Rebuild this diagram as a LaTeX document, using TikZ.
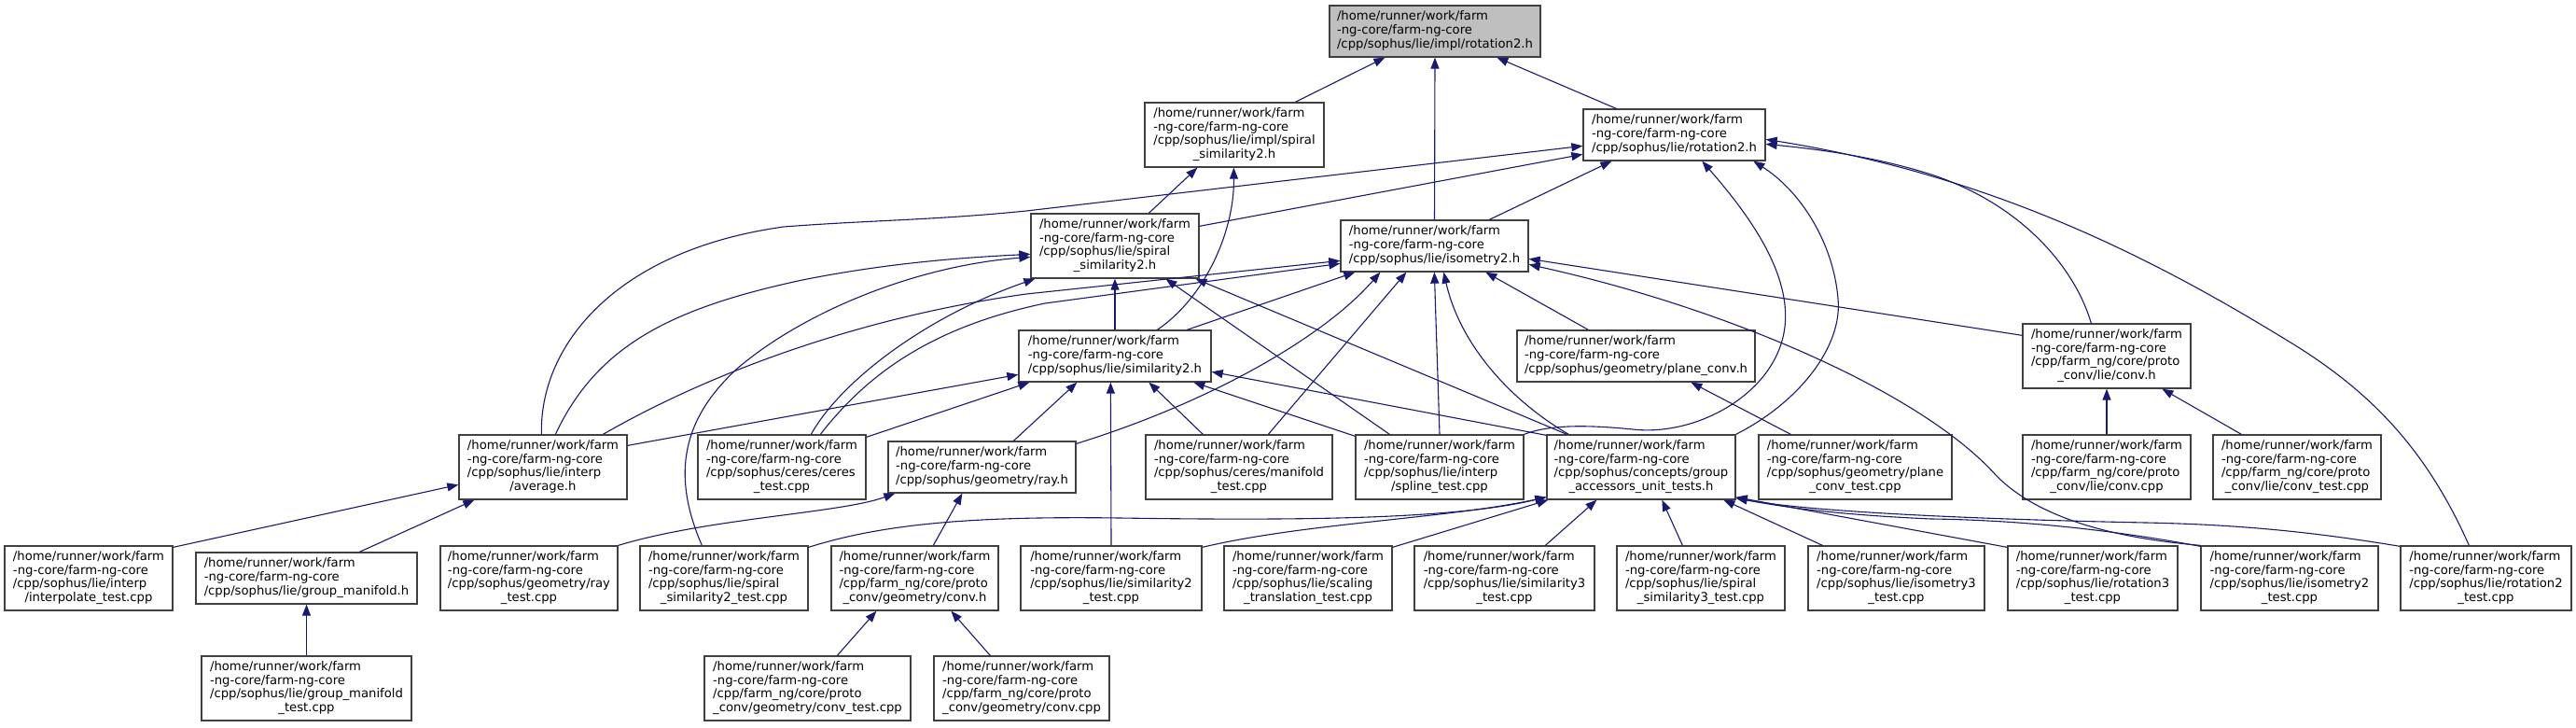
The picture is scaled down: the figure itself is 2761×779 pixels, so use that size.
\documentclass[tikz,border=0pt]{standalone}
\usepackage{fontspec}
\setmainfont{DejaVu Sans}
\usetikzlibrary{arrows.meta}
\definecolor{edgec}{HTML}{191970}
\definecolor{bordc}{HTML}{404040}
\definecolor{rootfill}{HTML}{BFBFBF}
\newcommand{\NThree}[1]{\begin{tabular}{@{}l@{}}/home/runner/work/farm\\-ng-core/farm-ng-core\\#1\end{tabular}}
\newcommand{\NFour}[2]{\begin{tabular}{@{}l@{}}/home/runner/work/farm\\-ng-core/farm-ng-core\\#1\\\multicolumn{1}{@{}c@{}}{#2}\end{tabular}}
\tikzset{
  box/.style={draw=bordc, line width=1.3pt, fill=white, inner sep=0pt, rectangle,
    font=\fontsize{13.2}{14.7}\selectfont, text=black},
  sz/.style 2 args={minimum width=#1pt, minimum height=#2pt},
  e/.style={draw=edgec, line width=1.1pt, -{Triangle[length=12pt,width=9pt]}}
}
\begin{document}
\begin{tikzpicture}[x=1pt,y=-1pt]
\useasboundingbox[fill=white] (0,0) rectangle (2761,779);
% row 0-3
\node[box,sz={226}{55},fill=rootfill] (root) at (1538,33.5) {\NThree{/cpp/sophus/lie/impl/rotation2.h}};
\node[box,sz={192}{69}] (implspiral) at (1323,144.5) {\NFour{/cpp/sophus/lie/impl/spiral}{\_similarity2.h}};
\node[box,sz={195}{55}] (rot2) at (1794.5,144.5) {\NThree{/cpp/sophus/lie/rotation2.h}};
\node[box,sz={180}{69}] (spiral2) at (1195,263.5) {\NFour{/cpp/sophus/lie/spiral}{\_similarity2.h}};
\node[box,sz={201}{55}] (iso2) at (1537.5,263.5) {\NThree{/cpp/sophus/lie/isometry2.h}};
\node[box,sz={206}{55}] (sim2) at (1195,381.5) {\NThree{/cpp/sophus/lie/similarity2.h}};
\node[box,sz={255}{55}] (planeconv) at (1753.5,381.5) {\NThree{/cpp/sophus/geometry/plane\_conv.h}};
\node[box,sz={180}{69}] (lieconvh) at (2258,381.5) {\NFour{/cpp/farm\_ng/core/proto}{\_conv/lie/conv.h}};
% row 4
\node[box,sz={180}{69}] (avg) at (582,500.5) {\NFour{/cpp/sophus/lie/interp}{/average.h}};
\node[box,sz={180}{69}] (ceres) at (838,500.5) {\NFour{/cpp/sophus/ceres/ceres}{\_test.cpp}};
\node[box,sz={201}{55}] (ray) at (1052.5,500.5) {\NThree{/cpp/sophus/geometry/ray.h}};
\node[box,sz={200}{69}] (manifold) at (1328,500.5) {\NFour{/cpp/sophus/ceres/manifold}{\_test.cpp}};
\node[box,sz={180}{69}] (spline) at (1543,500.5) {\NFour{/cpp/sophus/lie/interp}{/spline\_test.cpp}};
\node[box,sz={202}{69}] (gaut) at (1759,500.5) {\NFour{/cpp/sophus/concepts/group}{\_accessors\_unit\_tests.h}};
\node[box,sz={207}{69}] (planetest) at (1988.5,500.5) {\NFour{/cpp/sophus/geometry/plane}{\_conv\_test.cpp}};
\node[box,sz={180}{69}] (lieconvcpp) at (2258,500.5) {\NFour{/cpp/farm\_ng/core/proto}{\_conv/lie/conv.cpp}};
\node[box,sz={180}{69}] (lieconvtest) at (2462,500.5) {\NFour{/cpp/farm\_ng/core/proto}{\_conv/lie/conv\_test.cpp}};
% row 5
\node[box,sz={180}{69}] (interp) at (95,619.5) {\NFour{/cpp/sophus/lie/interp}{/interpolate\_test.cpp}};
\node[box,sz={237}{55}] (gm) at (328.5,619.5) {\NThree{/cpp/sophus/lie/group\_manifold.h}};
\node[box,sz={190}{69}] (raytest) at (567,619.5) {\NFour{/cpp/sophus/geometry/ray}{\_test.cpp}};
\node[box,sz={180}{69}] (sps2test) at (776,619.5) {\NFour{/cpp/sophus/lie/spiral}{\_similarity2\_test.cpp}};
\node[box,sz={179}{69}] (geomconvh) at (980.5,619.5) {\NFour{/cpp/farm\_ng/core/proto}{\_conv/geometry/conv.h}};
\node[box,sz={194}{69}] (sim2test) at (1191,619.5) {\NFour{/cpp/sophus/lie/similarity2}{\_test.cpp}};
\node[box,sz={180}{69}] (scaling) at (1402,619.5) {\NFour{/cpp/sophus/lie/scaling}{\_translation\_test.cpp}};
\node[box,sz={193}{69}] (sim3test) at (1612.5,619.5) {\NFour{/cpp/sophus/lie/similarity3}{\_test.cpp}};
\node[box,sz={180}{69}] (sps3test) at (1823,619.5) {\NFour{/cpp/sophus/lie/spiral}{\_similarity3\_test.cpp}};
\node[box,sz={189}{69}] (iso3test) at (2032.5,619.5) {\NFour{/cpp/sophus/lie/isometry3}{\_test.cpp}};
\node[box,sz={182}{69}] (rot3test) at (2243,619.5) {\NFour{/cpp/sophus/lie/rotation3}{\_test.cpp}};
\node[box,sz={190}{69}] (iso2test) at (2454,619.5) {\NFour{/cpp/sophus/lie/isometry2}{\_test.cpp}};
\node[box,sz={183}{69}] (rot2test) at (2664.5,619.5) {\NFour{/cpp/sophus/lie/rotation2}{\_test.cpp}};
% row 6
\node[box,sz={225}{69}] (gmtest) at (328.5,737.5) {\NFour{/cpp/sophus/lie/group\_manifold}{\_test.cpp}};
\node[box,sz={221}{69}] (geomconvtest) at (865.5,737.5) {\NFour{/cpp/farm\_ng/core/proto}{\_conv/geometry/conv\_test.cpp}};
\node[box,sz={188}{69}] (geomconvcpp) at (1095,737.5) {\NFour{/cpp/farm\_ng/core/proto}{\_conv/geometry/conv.cpp}};

% edges to root
\draw[e] ([xshift=162pt]implspiral.north west) -- ([xshift=60pt]root.south west);
\draw[e] (iso2.north) -- (root.south);
\draw[e] ([xshift=36pt]rot2.north west) -- ([xshift=180pt]root.south west);
% to implspiral
\draw[e] ([xshift=127pt]spiral2.north west) -- ([xshift=57pt]implspiral.south west);
\draw[e] ([xshift=149pt]sim2.north west) .. controls (1290,320) and (1323,250) .. ([xshift=96pt]implspiral.south west);
% to rot2
\draw[e] ([yshift=-14pt]spiral2.north east) -- ([yshift=-49pt]rot2.north west);
\draw[e] ([xshift=89pt]avg.north west) .. controls (578,370) and (660,268) .. (840,243) .. controls (930,236) and (1000,236) .. (1100,226) -- ([yshift=-40pt]rot2.north west);
\draw[e] ([xshift=160pt]iso2.north west) -- ([xshift=31pt]rot2.south west);
\draw[e] (spline.north east) .. controls (1660,455) and (1700,455) .. (1750,460) .. controls (1820,468) and (1905,420) .. (1913,350) .. controls (1920,290) and (1870,225) .. ([xshift=128pt]rot2.south west);
\draw[e] (gaut.north east) .. controls (1930,430) and (1975,370) .. (1970,320) .. controls (1965,260) and (1930,205) .. ([xshift=183pt]rot2.south west);
\draw[e] ([xshift=74pt]lieconvh.north west) .. controls (2225,290) and (2170,220) .. (2070,187) .. controls (2010,168) and (1950,160) .. ([yshift=-38pt]rot2.north east);
\draw[e] ([xshift=74pt]rot2test.north west) .. controls (2600,480) and (2540,420) .. (2460,370) .. controls (2330,290) and (2150,190) .. ([yshift=-33pt]rot2.north east);
% to spiral2
\draw[e] (sim2.north) -- (spiral2.south);
\draw[e] ([xshift=104pt]avg.north west) .. controls (640,370) and (720,330) .. (860,300) .. controls (950,282) and (1030,276) .. ([yshift=-44pt]spiral2.north west);
\draw[e] ([xshift=67pt]sps2test.north west) .. controls (720,510) and (730,450) .. (790,395) .. controls (860,335) and (980,285) .. ([yshift=-47pt]spiral2.north west);
\draw[e] ([xshift=122pt]ceres.north west) .. controls (900,410) and (990,340) .. ([xshift=5pt]spiral2.south west);
\draw[e] ([xshift=37pt]spline.north west) -- ([xshift=145pt]spiral2.south west);
\draw[e] ([xshift=22pt]gaut.north west) -- ([xshift=177pt]spiral2.south west);
% to iso2
\draw[e] ([xshift=181pt]sim2.north west) -- ([xshift=16pt]iso2.south west);
\draw[e] ([xshift=155pt]avg.north west) .. controls (760,400) and (920,340) .. (1100,315) -- ([yshift=-44pt]iso2.north west);
\draw[e] ([xshift=132pt]ceres.north west) .. controls (930,400) and (1000,350) .. (1120,325) -- ([yshift=-47pt]iso2.north west);
\draw[e] ([yshift=-3pt]ray.north east) .. controls (1300,430) and (1420,360) .. ([xshift=43pt]iso2.south west);
\draw[e] ([xshift=132pt]manifold.north west) -- ([xshift=71pt]iso2.south west);
\draw[e] (spline.north) -- ([xshift=101pt]iso2.south west);
\draw[e] ([xshift=24pt]gaut.north west) .. controls (1620,430) and (1565,370) .. ([xshift=111pt]iso2.south west);
\draw[e] ([xshift=77pt]planeconv.north west) -- ([xshift=156pt]iso2.south west);
\draw[e] ([yshift=-13pt]lieconvh.north west) -- ([yshift=-42pt]iso2.north east);
\draw[e] (iso2test.north west) .. controls (2250,575) and (2180,550) .. (2140,510) .. controls (2060,420) and (1850,330) .. ([yshift=-48pt]iso2.north east);
% to sim2
\draw[e] ([yshift=-12pt]avg.north east) -- ([yshift=-48pt]sim2.north west);
\draw[e] ([yshift=-3pt]ceres.north east) -- ([xshift=12pt]sim2.south west);
\draw[e] ([xshift=135pt]ray.north west) -- ([xshift=63pt]sim2.south west);
\draw[e] (sim2test.north) -- ([xshift=99pt]sim2.south west);
\draw[e] ([xshift=62pt]manifold.north west) -- ([xshift=140pt]sim2.south west);
\draw[e] ([yshift=-2pt]spline.north west) -- ([xshift=188pt]sim2.south west);
\draw[e] ([yshift=-1pt]gaut.north west) -- ([yshift=-45pt]sim2.north east);
% lower edges
\draw[e] (raytest.north east) .. controls (760,555) and (900,550) .. ([xshift=8pt]ray.south west);
\draw[e] ([xshift=110pt]geomconvh.north west) -- ([xshift=80pt]ray.south west);
\draw[e] ([xshift=143pt]geomconvtest.north west) -- ([xshift=49pt]geomconvh.south west);
\draw[e] ([xshift=61pt]geomconvcpp.north west) -- ([xshift=129pt]geomconvh.south west);
\draw[e] ([yshift=-2pt]interp.north east) -- ([yshift=-54pt]avg.north west);
\draw[e] ([xshift=176pt]gm.north west) -- ([xshift=17pt]avg.south west);
\draw[e] (gmtest.north) -- (gm.south);
\draw[e] ([xshift=35pt]planetest.north west) -- ([xshift=187pt]planeconv.south west);
\draw[e] (lieconvcpp.north) -- (lieconvh.south);
\draw[e] ([xshift=31pt]lieconvtest.north west) -- ([xshift=150pt]lieconvh.south west);
% to gaut
\draw[e] ([yshift=-2pt]sps2test.north east) .. controls (950,560) and (1050,553) .. (1200,555) .. controls (1400,558) and (1560,556) .. ([yshift=3pt]gaut.south west);
\draw[e] ([yshift=-2pt]sim2test.north east) .. controls (1400,560) and (1550,556) .. ([yshift=3pt]gaut.south west);
\draw[e] ([yshift=-2pt]scaling.north east) -- ([xshift=2pt]gaut.south west);
\draw[e] ([xshift=141pt]sim3test.north west) -- ([xshift=54pt]gaut.south west);
\draw[e] ([xshift=71pt]sps3test.north west) -- ([xshift=124pt]gaut.south west);
\draw[e] ([xshift=16pt]iso3test.north west) -- ([xshift=190pt]gaut.south west);
\draw[e] ([yshift=-2pt]rot3test.north west) -- ([yshift=3pt]gaut.south east);
\draw[e] ([yshift=-1pt]iso2test.north west) .. controls (2250,565) and (2150,557) .. (2070,556) .. controls (1980,552) and (1920,545) .. ([yshift=2pt]gaut.south east);
\draw[e] ([yshift=-1pt]rot2test.north west) .. controls (2480,570) and (2400,562) .. (2300,560) .. controls (2150,557) and (1950,550) .. ([yshift=2pt]gaut.south east);
\end{tikzpicture}
\end{document}
